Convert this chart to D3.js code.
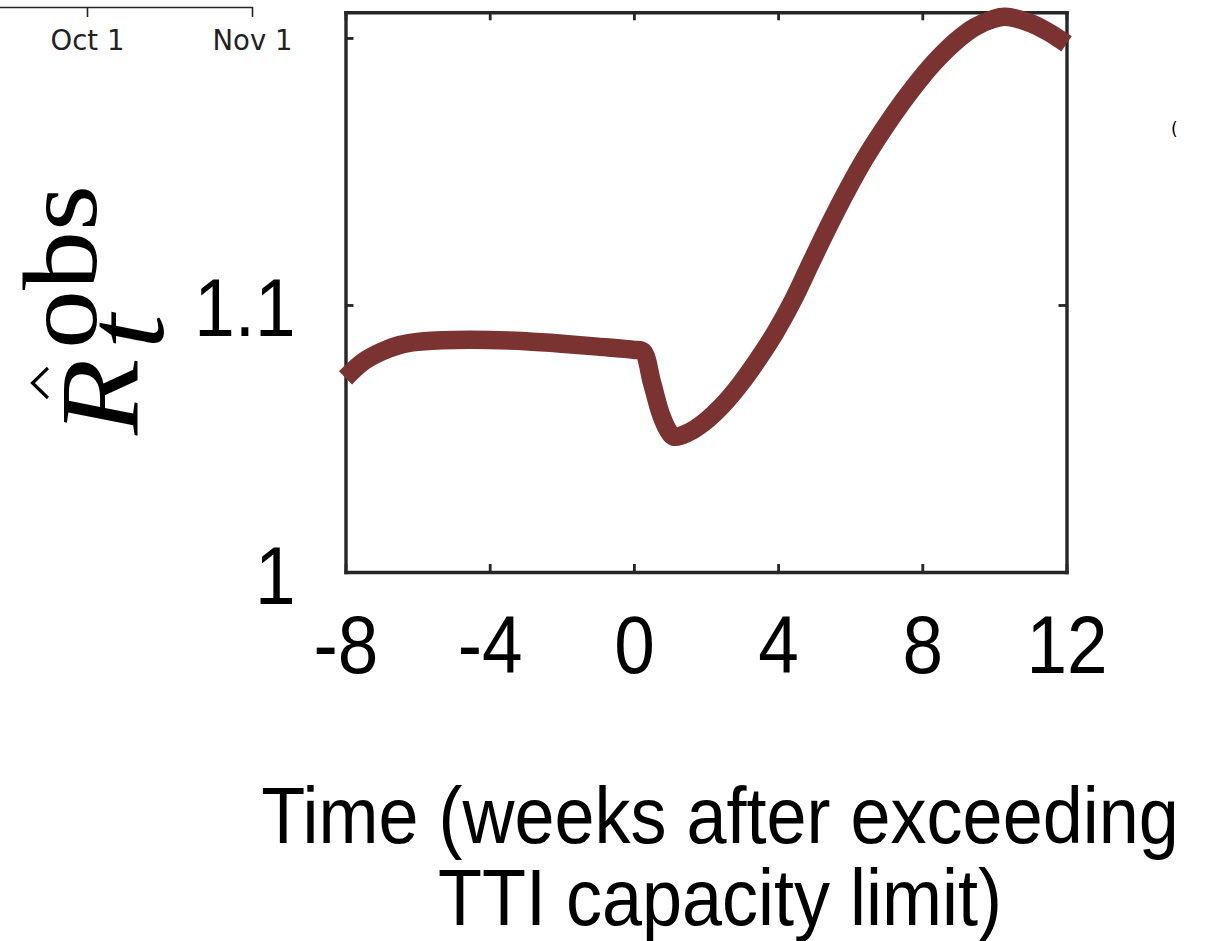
<!DOCTYPE html>
<html>
<head>
<meta charset="utf-8">
<script src="https://cdn.jsdelivr.net/npm/d3@7"></script>
<style>
body { margin: 0; background: #fff; }
</style>
</head>
<body>
<div id="chart"></div>
<script>
// weeks after exceeding TTI capacity limit
var weeks = [-8, -7.5, -7, -6.5, -6, -5, -4, -3, -2, -1, 0, 0.25, 0.5, 0.75, 0.95, 1.1,
    1.49, 1.96, 2.46, 2.93, 3.43, 3.93, 4.42, 4.92, 5.42, 5.92, 6.42, 6.95, 7.45, 7.95,
    8.45, 8.95, 9.45, 9.97, 10.3, 10.97, 11.47, 12];
// observed reproduction number
var rObs = [1.0727, 1.0788, 1.0825, 1.0850, 1.0862, 1.0869, 1.0869, 1.0864, 1.0855, 1.0844, 1.0832, 1.0826, 1.0710, 1.0590, 1.0530, 1.0507,
    1.0521, 1.0562, 1.0625, 1.0700, 1.0794, 1.0899, 1.1019, 1.1161, 1.1300, 1.1431, 1.1551, 1.1663, 1.1760, 1.1848,
    1.1925, 1.1990, 1.2040, 1.2071, 1.2079, 1.2057, 1.2024, 1.1978];

var xTicks = [-8, -4, 0, 4, 8, 12];
var yTicks = [1, 1.1, 1.2];
var yTickLabels = ["1", "1.1", ""];
var titleLines = ["Time (weeks after exceeding", "TTI capacity limit)"];
// neighbouring panel's date axis (cut off)
var dateTicks = [new Date(2020, 9, 1), new Date(2020, 10, 1)];

var width = 1210, height = 941;
var lineColor = "#7b3331", axisColor = "#262626";

var svg = d3.select("#chart").append("svg")
    .attr("width", width)
    .attr("height", height);

// fragment of the next panel's time axis, top left
var t = d3.scaleTime()
    .domain([new Date(2020, 8, 14), new Date(2020, 10, 1)])
    .range([-3.5, 252]);
var tAxis = svg.append("g")
    .attr("transform", "translate(0,7)")
    .call(d3.axisBottom(t).tickValues(dateTicks).tickSize(10).tickSizeOuter(0)
        .tickFormat(d3.timeFormat("%b %-d")));
tAxis.selectAll("path, line").attr("stroke", axisColor).attr("stroke-width", 1.6);
tAxis.selectAll("text")
    .attr("y", 43).attr("dy", 0)
    .attr("fill", "#222")
    .style("font-family", "DejaVu Sans")
    .style("font-size", "27.5px");

svg.append("text")
    .attr("x", 1171).attr("y", 135)
    .style("font-family", "DejaVu Sans")
    .style("font-size", "17px")
    .text("(");

var x = d3.scaleLinear().domain([-8, 12]).range([345.5, 1066.5]);
var y = d3.scaleLinear().domain([1, 1.2096]).range([572, 12.3]);

var tickLen = -8;
var axes = [
    svg.append("g").attr("transform", "translate(0," + y.range()[0] + ")")
        .call(d3.axisBottom(x).tickValues(xTicks).tickSize(tickLen).tickSizeOuter(0)
            .tickFormat(function(d) { return String(d); })),
    svg.append("g").attr("transform", "translate(0," + y.range()[1] + ")")
        .call(d3.axisTop(x).tickValues(xTicks).tickSize(tickLen).tickSizeOuter(0).tickFormat("")),
    svg.append("g").attr("transform", "translate(" + x.range()[0] + ",0)")
        .call(d3.axisLeft(y).tickValues(yTicks).tickSize(tickLen).tickSizeOuter(0)
            .tickFormat(function(d, i) { return yTickLabels[i]; })),
    svg.append("g").attr("transform", "translate(" + x.range()[1] + ",0)")
        .call(d3.axisRight(y).tickValues(yTicks).tickSize(tickLen).tickSizeOuter(0).tickFormat(""))
];
axes.forEach(function(a) {
    a.select(".domain").attr("stroke", axisColor).attr("stroke-width", 3.4)
        .attr("stroke-linecap", "square");
    a.selectAll(".tick line").attr("stroke", axisColor).attr("stroke-width", 2.8);
});

axes[0].selectAll("text")
    .attr("y", 101).attr("dy", 0)
    .attr("transform", "scale(0.9,1)")
    .attr("fill", "#000")
    .style("font-family", "Liberation Sans, Arial, sans-serif")
    .style("font-size", "81px");
axes[2].selectAll("text")
    .attr("x", 0).attr("y", 31).attr("dy", 0)
    .attr("transform", "translate(-50,0) scale(0.9,1)")
    .attr("fill", "#000")
    .style("font-family", "Liberation Sans, Arial, sans-serif")
    .style("font-size", "81px");

// the series
var line = d3.line()
    .x(function(d, i) { return x(weeks[i]); })
    .y(function(d) { return y(d); })
    .curve(d3.curveCatmullRom.alpha(0.5));

svg.append("path")
    .datum(rObs)
    .attr("d", line)
    .attr("fill", "none")
    .attr("stroke", lineColor)
    .attr("stroke-width", 18.5)
    .attr("stroke-linejoin", "round");

// x title
svg.append("g").selectAll("text")
    .data(titleLines)
    .join("text")
    .attr("transform", function(d, i) { return "translate(720," + (843 + i * 82) + ") scale(0.9,1)"; })
    .attr("text-anchor", "middle")
    .style("font-family", "Liberation Sans, Arial, sans-serif")
    .style("font-size", "80px")
    .text(function(d) { return d; });

// y title: R hat, subscript t, superscript obs
var yl = svg.append("g")
    .attr("transform", "translate(137,435) rotate(-90) scale(1,0.9)")
    .style("font-family", "Liberation Serif, Times New Roman, serif")
    .style("font-size", "125px");
yl.append("text").attr("x", 0).attr("y", 0).style("font-style", "italic").text("R");
yl.append("path")
    .attr("d", "M37,-99L52,-116L67,-99")
    .attr("fill", "none")
    .attr("stroke", "#000")
    .attr("stroke-width", 3.5);
yl.append("text").attr("x", 86).attr("y", 29).style("font-style", "italic").text("t");
yl.append("text").attr("x", 86).attr("y", -46).style("font-size", "118px").text("obs");
</script>
</body>
</html>
